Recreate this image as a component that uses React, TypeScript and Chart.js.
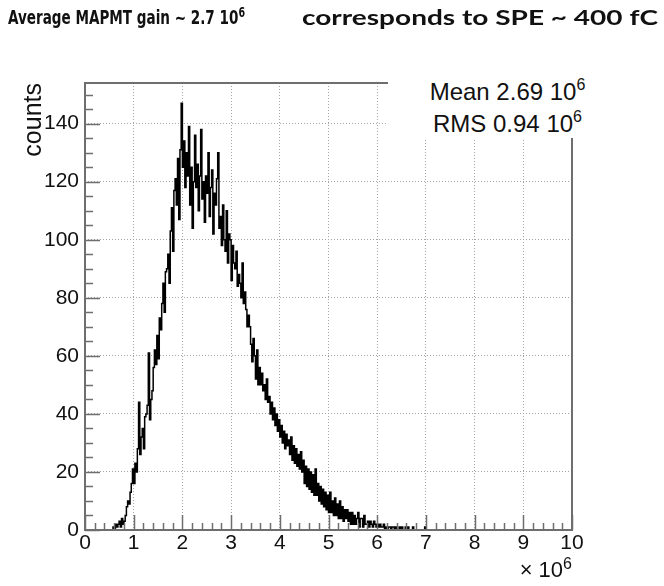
import React, { useEffect, useRef } from "react";
import { Chart, registerables } from "chart.js";

Chart.register(...registerables);

// ---------------- data ----------------
// Histogram of MAPMT gain (x in units of 10^6), counts per bin.
const BIN_START = 0.5; // first listed bin's lower edge (×10^6)
const BIN_WIDTH = 0.025; // bin width (×10^6)
const counts: number[] = [
  // 0.5
  0, 0, 0, 0,
  // 0.6
  1, 0, 2, 1,
  // 0.7
  2, 3, 1, 4,
  // 0.8
  2, 3, 5, 8,
  // 0.9
  10, 9, 13, 16,
  // 1.0
  21, 16, 23, 20,
  // 1.1
  28, 44, 26, 32,
  // 1.2
  35, 28, 39, 40,
  // 1.3
  43, 61, 38, 45,
  // 1.4
  48, 56, 62, 57,
  // 1.5
  67, 59, 73, 69,
  // 1.6
  78, 85, 75, 89,
  // 1.7
  90, 95, 85, 103,
  // 1.8
  111, 96, 117, 121,
  // 1.9
  112, 128, 107, 131,
  // 2.0
  147, 125, 134, 118,
  // 2.1
  130, 122, 139, 112,
  // 2.2
  125, 104, 120, 136,
  // 2.3
  118, 126, 110, 122,
  // 2.4
  138, 114, 120, 106,
  // 2.5
  122, 116, 130, 108,
  // 2.6
  118, 124, 102, 116,
  // 2.7
  112, 121, 130, 104,
  // 2.8
  108, 98, 112, 100,
  // 2.9
  96, 110, 92, 102,
  // 3.0
  100, 86, 98, 92,
  // 3.1
  90, 96, 84, 88,
  // 3.2
  85, 80, 92, 78,
  // 3.3
  82, 76, 70, 74,
  // 3.4
  70, 64, 58, 66,
  // 3.5
  60, 52, 62, 50,
  // 3.6
  56, 50, 54, 48,
  // 3.7
  50, 45, 52, 44,
  // 3.8
  46, 40, 44, 38,
  // 3.9
  42, 36, 40, 34,
  // 4.0
  38, 32, 36, 30,
  // 4.1
  34, 28, 33, 29,
  // 4.2
  31, 26, 32, 24,
  // 4.3
  29, 23, 28, 22,
  // 4.4
  26, 21, 27, 20,
  // 4.5
  24, 16, 22, 15,
  // 4.6
  21, 14, 20, 13,
  // 4.7
  19, 12, 21, 12,
  // 4.8
  16, 10, 15, 9,
  // 4.9
  14, 8, 13, 7,
  // 5.0
  12, 6, 13, 6,
  // 5.1
  10, 5, 11, 5,
  // 5.2
  9, 4, 10, 4,
  // 5.3
  8, 3, 7, 4,
  // 5.4
  7, 3, 6, 2,
  // 5.5
  6, 2, 5, 2,
  // 5.6
  4, 6, 1, 4,
  // 5.7
  4, 1, 5, 2,
  // 5.8
  2, 3, 1, 3,
  // 5.9
  2, 1, 3, 2,
  // 6.0
  1, 2, 1, 2,
  // 6.1
  1, 1, 2, 0,
  // 6.2
  1, 0, 1, 1,
  // 6.3
  0, 1, 1, 0,
  // 6.4
  1, 0, 0, 1,
  // 6.5
  0, 1, 0, 0,
  // 6.6
  1, 0, 1, 0,
  // 6.7
  0, 0, 1, 0,
  // 6.8
  0, 0, 0, 0,
  // 6.9
  0, 0, 0, 0,
  // 7.0
  1, 0, 0, 0,
];

const X_MIN = 0;
const X_MAX = 10;
const Y_MIN = 0;
const Y_MAX = 154;
const xTickValues = [0, 1, 2, 3, 4, 5, 6, 7, 8, 9, 10];
const yTickValues = [0, 20, 40, 60, 80, 100, 120, 140];
const X_MINOR_STEP = 0.2;
const Y_MINOR_STEP = 5;

const titleLeft = "Average MAPMT gain ~  2.7 10";
const titleLeftExp = "6";
const titleRight = "corresponds to SPE ~ 400 fC";
const statsMean = "Mean 2.69 10";
const statsRms = "RMS 0.94 10";
const statsExp = "6";
const yAxisTitle = "counts";
const xMultiplier = "× 10";
const xMultiplierExp = "6";

// ---------------- chart ----------------
const SANS = "'Liberation Sans', Arial, Helvetica, sans-serif";

function buildPoints() {
  const pts: { x: number; y: number }[] = [];
  pts.push({ x: X_MIN, y: 0 });
  counts.forEach((c, i) => pts.push({ x: BIN_START + i * BIN_WIDTH, y: c }));
  pts.push({ x: BIN_START + counts.length * BIN_WIDTH, y: 0 });
  pts.push({ x: X_MAX, y: 0 });
  return pts;
}

const framePlugin = {
  id: "rootFrame",
  afterDatasetsDraw(chart: any) {
    const { ctx, chartArea: a, scales } = chart;
    const x = scales.x;
    const y = scales.y;
    ctx.save();
    ctx.strokeStyle = "#6e6e6e";
    ctx.lineWidth = 1.5;
    const nx = Math.round((X_MAX - X_MIN) / X_MINOR_STEP);
    for (let i = 0; i <= nx; i++) {
      const v = X_MIN + i * X_MINOR_STEP;
      const major = i % 5 === 0;
      const px = Math.round(x.getPixelForValue(v)) + 0.5;
      ctx.beginPath();
      ctx.moveTo(px, a.bottom);
      ctx.lineTo(px, a.bottom - (major ? 15 : 7));
      ctx.stroke();
    }
    const ny = Math.floor((Y_MAX - Y_MIN) / Y_MINOR_STEP);
    for (let i = 0; i <= ny; i++) {
      const v = Y_MIN + i * Y_MINOR_STEP;
      const major = i % 4 === 0;
      const py = Math.round(y.getPixelForValue(v)) + 0.5;
      ctx.beginPath();
      ctx.moveTo(a.left, py);
      ctx.lineTo(a.left + (major ? 15 : 8), py);
      ctx.stroke();
    }
    ctx.lineWidth = 2;
    ctx.strokeRect(a.left, a.top, a.right - a.left, a.bottom - a.top);
    ctx.restore();
  },
};

export default function App() {
  const canvasRef = useRef<HTMLCanvasElement | null>(null);
  const fitRefs = useRef<(HTMLSpanElement | null)[]>([]);

  useEffect(() => {
    const canvas = canvasRef.current;
    if (!canvas) return;
    const chart = new Chart(canvas, {
      type: "line",
      data: {
        datasets: [
          {
            data: buildPoints(),
            borderColor: "#000000",
            borderWidth: 1.5,
            pointRadius: 0,
            stepped: "after",
            fill: false,
            tension: 0,
          } as any,
        ],
      },
      options: {
        animation: false,
        responsive: false,
        maintainAspectRatio: false,
        layout: { padding: { left: 0, right: 92, top: 83, bottom: 0 } },
        plugins: {
          legend: { display: false },
          tooltip: { enabled: false },
          title: { display: false },
        },
        scales: {
          x: {
            type: "linear",
            min: X_MIN,
            max: X_MAX,
            afterBuildTicks: (s: any) => {
              s.ticks = xTickValues.map((v) => ({ value: v }));
            },
            afterFit: (s: any) => {
              s.height = 56;
            },
            ticks: {
              font: { family: SANS, size: 21 },
              color: "#111111",
              padding: 1,
              maxRotation: 0,
              autoSkip: false,
              callback: (v: any) => String(v),
            },
            grid: { color: "#a4a4a4", lineWidth: 1, drawTicks: false },
            border: { display: false, dash: [1, 2] },
          },
          y: {
            type: "linear",
            min: Y_MIN,
            max: Y_MAX,
            afterBuildTicks: (s: any) => {
              s.ticks = yTickValues.map((v) => ({ value: v }));
            },
            afterFit: (s: any) => {
              s.width = 85;
            },
            ticks: {
              font: { family: SANS, size: 21 },
              color: "#111111",
              padding: 6,
              autoSkip: false,
              callback: (v: any) => String(v),
            },
            grid: { color: "#a4a4a4", lineWidth: 1, drawTicks: false },
            border: { display: false, dash: [1, 2] },
            title: {
              display: true,
              text: yAxisTitle,
              align: "end",
              color: "#111111",
              font: { family: SANS, size: 25 },
              padding: { top: 19, bottom: 0 },
            },
          },
        },
      } as any,
      plugins: [framePlugin as any],
    });

    const targets = [237, 356];
    const fit = () => {
      fitRefs.current.forEach((el, i) => {
        if (!el) return;
        el.style.transform = "none";
        const w = el.getBoundingClientRect().width;
        if (w > 0) el.style.transform = `scaleX(${targets[i] / w})`;
      });
    };
    fit();
    (document as any).fonts?.ready?.then(fit);

    return () => chart.destroy();
  }, []);

  const titleBase: React.CSSProperties = {
    position: "absolute",
    fontWeight: 700,
    color: "#111",
    whiteSpace: "nowrap",
  };
  const titleLeftStyle: React.CSSProperties = {
    ...titleBase,
    left: 8,
    top: 7,
    fontFamily: "'Liberation Sans Narrow', 'Arial Narrow', 'DejaVu Sans Condensed', 'Liberation Sans', sans-serif",
    fontSize: 20,
    lineHeight: "20px",
  };
  const titleRightStyle: React.CSSProperties = {
    ...titleBase,
    left: 302,
    top: 6,
    fontFamily: "Lato, 'Open Sans', 'Liberation Sans', sans-serif",
    fontSize: 21,
    lineHeight: "21px",
  };
  const spanFit: React.CSSProperties = {
    display: "inline-block",
    transformOrigin: "left top",
    whiteSpace: "nowrap",
  };
  const statStyle: React.CSSProperties = {
    position: "absolute",
    left: 390,
    width: 235,
    textAlign: "center",
    fontFamily: SANS,
    fontSize: 24,
    lineHeight: "24px",
    color: "#111",
    whiteSpace: "nowrap",
  };
  const supStyle = (size: number, rise: number): React.CSSProperties => ({
    fontSize: size,
    position: "relative",
    top: -rise,
    lineHeight: 0,
  });

  return (
    <div
      style={{
        position: "absolute",
        left: 0,
        top: 0,
        width: 664,
        height: 586,
        background: "#ffffff",
        overflow: "hidden",
      }}
    >
      <canvas
        ref={canvasRef}
        width={664}
        height={586}
        style={{ position: "absolute", left: 0, top: 0, width: 664, height: 586 }}
      />
      <div style={titleLeftStyle}>
        <span ref={(el) => { fitRefs.current[0] = el; }} style={spanFit}>
          {titleLeft}
          <span style={supStyle(14, 7)}>{titleLeftExp}</span>
        </span>
      </div>
      <div style={titleRightStyle}>
        <span ref={(el) => { fitRefs.current[1] = el; }} style={spanFit}>
          {titleRight}
        </span>
      </div>
      <div
        style={{
          position: "absolute",
          left: 388,
          top: 60,
          width: 240,
          height: 78,
          background: "#ffffff",
        }}
      />
      <div style={{ ...statStyle, top: 80 }}>
        {statsMean}
        <span style={supStyle(16, 10)}>{statsExp}</span>
      </div>
      <div style={{ ...statStyle, top: 112 }}>
        {statsRms}
        <span style={supStyle(16, 10)}>{statsExp}</span>
      </div>
      <div
        style={{
          position: "absolute",
          right: 92,
          top: 559,
          fontFamily: SANS,
          fontSize: 22,
          lineHeight: "22px",
          color: "#111",
          whiteSpace: "nowrap",
        }}
      >
        {xMultiplier}
        <span style={supStyle(16, 8)}>{xMultiplierExp}</span>
      </div>
    </div>
  );
}
